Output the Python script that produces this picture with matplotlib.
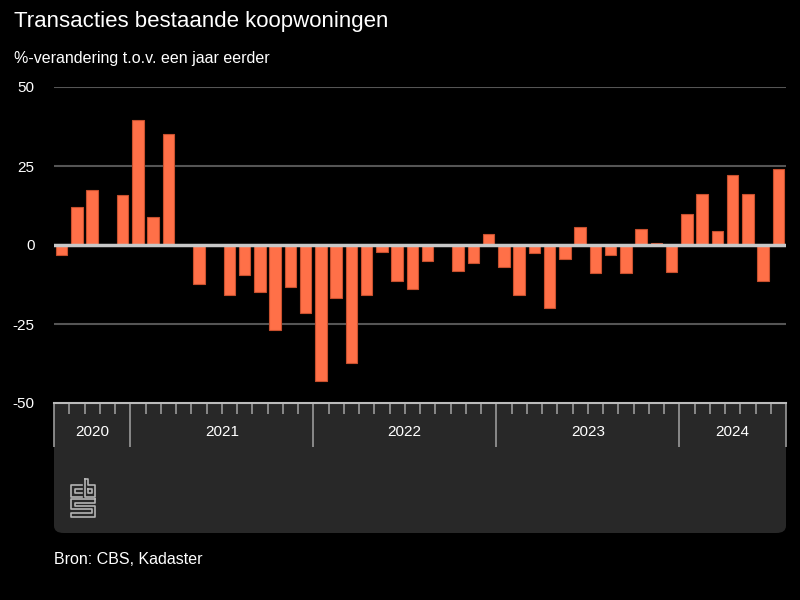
import numpy as np
import matplotlib
matplotlib.use("Agg")
import matplotlib.pyplot as plt
from matplotlib.patches import FancyBboxPatch, Rectangle
from matplotlib.lines import Line2D

plt.rcParams['font.family'] = ['Liberation Sans', 'DejaVu Sans']

# monthly change, Aug 2020 .. Jul 2024
values_2020 = [-3.1, 11.9, 17.5, 0.0, 15.7]
values_2021 = [39.5, 9.0, 35.2, 0.0, -12.3, 0.0, -15.8, -9.4, -14.9, -26.8, -13.2, -21.6]
values_2022 = [-42.9, -16.9, -37.4, -15.8, -2.1, -11.4, -14.0, -5.1, 0.0, -8.2, -5.6, 3.5]
values_2023 = [-6.9, -15.8, -2.5, -20.0, -4.3, 5.6, -8.9, -3.1, -8.9, 5.2, 0.6, -8.6]
values_2024 = [9.8, 16.2, 4.4, 22.1, 16.2, -11.4, 24.2]
years = ['2020', '2021', '2022', '2023', '2024']
yticks = [-50, -25, 0, 25, 50]

per_year = [values_2020, values_2021, values_2022, values_2023, values_2024]
values = np.concatenate(per_year)
x = np.arange(len(values))

W, H = 800, 600
fig = plt.figure(figsize=(8, 6), dpi=100, facecolor='black')


def fx(px):
    return px / W


def fy(py):
    return 1 - py / H


# dark band below the plot
box_col = '#282828'
fig.add_artist(Rectangle((fx(54), fy(480)), fx(786) - fx(54), fy(403) - fy(480),
                         transform=fig.transFigure, facecolor=box_col, edgecolor='none', zorder=0))
fig.add_artist(FancyBboxPatch((fx(54), fy(533)), fx(786) - fx(54), fy(420) - fy(533),
                              boxstyle='round,pad=0,rounding_size=0.012',
                              transform=fig.transFigure, facecolor=box_col, edgecolor='none', zorder=0))

ax = fig.add_axes([fx(54), fy(403), fx(786) - fx(54), fy(87) - fy(403)])
ax.set_facecolor('black')
ax.set_ylim(-50, 50)
ax.set_xlim(-0.5, len(values) - 0.5)

for v in [50, 25, -25]:
    ax.axhline(v, color='#555555', lw=1.5, zorder=1)
ax.bar(x, values, width=0.74, color='#ff7048', edgecolor='#c8502e', linewidth=0.8, zorder=2)
ax.axhline(0, color='#c8c8c8', lw=2.5, zorder=3)

for s in ['top', 'left', 'right']:
    ax.spines[s].set_visible(False)
ax.spines['bottom'].set_color('#bbbbbb')
ax.spines['bottom'].set_linewidth(1.5)

ax.set_yticks(yticks)
ax.set_yticklabels([str(t) for t in yticks])
ax.tick_params(axis='y', length=0, pad=14, labelcolor='white', labelsize=11)

# month and year boundaries
bounds = np.cumsum([0] + [len(v) for v in per_year]) - 0.5
months = [b for b in np.arange(-0.5, len(values), 1.0) if b not in bounds]
ax.set_xticks(bounds)
ax.set_xticklabels([])
ax.set_xticks(months, minor=True)
ax.tick_params(axis='x', which='major', length=32, width=1.2, color='#9a9a9a', direction='out')
ax.tick_params(axis='x', which='minor', length=8, width=1.2, color='#9a9a9a', direction='out')

for i, yr in enumerate(years):
    c = (bounds[i] + bounds[i + 1]) / 2
    ax.annotate(yr, xy=(c, 0), xycoords=('data', 'axes fraction'), xytext=(0, -21),
                textcoords='offset points', ha='center', va='center', color='white', fontsize=11)

fig.text(fx(14), fy(22), 'Transacties bestaande koopwoningen', color='white', fontsize=16,
         ha='left', va='center')
fig.text(fx(14), fy(58), '%-verandering t.o.v. een jaar eerder', color='white', fontsize=11.5,
         ha='left', va='center')
fig.text(fx(54), fy(560), 'Bron: CBS, Kadaster', color='white', fontsize=11.5,
         ha='left', va='center')

# rough cbs logo
logo_col = '#b4b4b4'
logo = [
    [(81.5, 485), (71, 485), (71, 496.5), (81.5, 496.5)],
    [(81.5, 488.5), (74.5, 488.5), (74.5, 493), (81.5, 493)],
    [(84.5, 479), (84.5, 496.5), (95, 496.5), (95, 485), (88, 485), (88, 479), (84.5, 479)],
    [(88, 488.5), (91.5, 488.5), (91.5, 493), (88, 493), (88, 488.5)],
    [(95, 499), (71, 499), (71, 509), (91.5, 509), (91.5, 513), (71, 513), (71, 516.5), (95, 516.5),
     (95, 505.5), (74.5, 505.5), (74.5, 502.5), (95, 502.5), (95, 499)],
]
for path in logo:
    xs = [fx(p[0]) for p in path]
    ys = [fy(p[1]) for p in path]
    fig.add_artist(Line2D(xs, ys, transform=fig.transFigure, color=logo_col, lw=1.2))

fig.savefig('out.png', dpi=100, facecolor='black')
